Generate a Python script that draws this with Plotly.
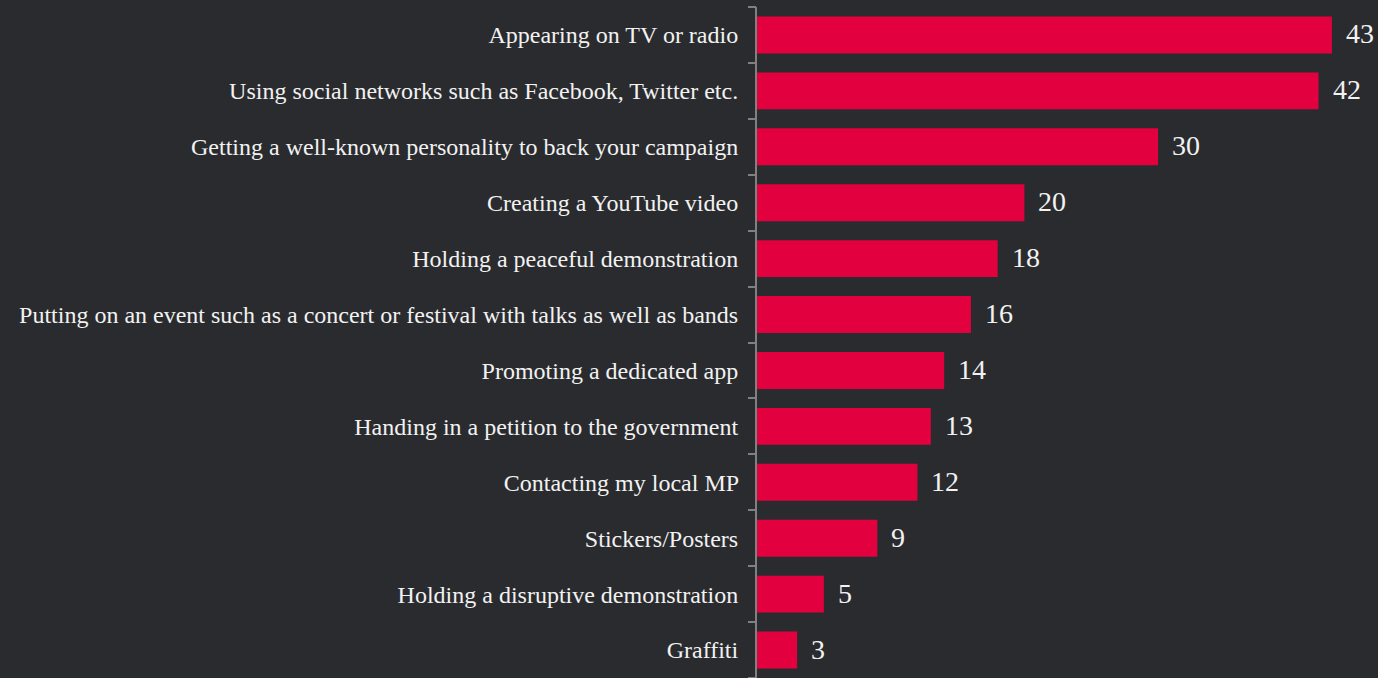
import plotly.graph_objects as go

categories = [
    "Appearing on TV or radio",
    "Using social networks such as Facebook, Twitter etc.",
    "Getting a well-known personality to back your campaign",
    "Creating a YouTube video",
    "Holding a peaceful demonstration",
    "Putting on an event such as a concert or festival with talks as well as bands",
    "Promoting a dedicated app",
    "Handing in a petition to the government",
    "Contacting my local MP",
    "Stickers/Posters",
    "Holding a disruptive demonstration",
    "Graffiti",
]
values = [43, 42, 30, 20, 18, 16, 14, 13, 12, 9, 5, 3]

BG = "#2a2b2e"
BAR = "#e3003e"
AXIS = "#808080"
FONT = "Liberation Serif"

n = len(categories)
# category boundaries (between bars) for the tick marks on the overlay axis
boundaries = [i - 0.5 for i in range(n + 1)]

fig = go.Figure(
    go.Bar(
        y=categories,
        x=values,
        orientation="h",
        marker=dict(color=BAR, line=dict(width=0)),
        hoverinfo="skip",
    )
)

for cat, val in zip(categories, values):
    fig.add_annotation(
        x=val, y=cat, text=str(val), showarrow=False,
        xanchor="left", xshift=12, yshift=1,
        font=dict(family=FONT, size=28, color="#f2f2f2"),
    )

fig.update_layout(
    width=1378, height=678,
    paper_bgcolor=BG, plot_bgcolor=BG,
    margin=dict(l=757, r=0, t=7, b=0),
    bargap=0.34,
    showlegend=False,
    font=dict(family=FONT, color="#f2f2f2"),
    xaxis=dict(range=[0, 46.45], visible=False, fixedrange=True),
    yaxis=dict(
        range=[n - 0.5, -0.5],
        showline=True, linecolor=AXIS, linewidth=2,
        ticks="", ticksuffix="  ",
        tickfont=dict(family=FONT, size=24, color="#f2f2f2"),
        showgrid=False, automargin=False, fixedrange=True,
    ),
    yaxis2=dict(
        overlaying="y", side="left", anchor="x",
        range=[n - 0.5, -0.5],
        tickmode="array", tickvals=boundaries, showticklabels=False,
        ticks="outside", ticklen=8, tickwidth=2, tickcolor=AXIS,
        showline=False, showgrid=False, zeroline=False, fixedrange=True,
    ),
)

# invisible trace that binds the overlay axis
fig.add_trace(go.Scatter(x=[0], y=[0], yaxis="y2", mode="markers",
                         marker=dict(opacity=0), hoverinfo="skip", showlegend=False))

fig.write_html("out.html")
